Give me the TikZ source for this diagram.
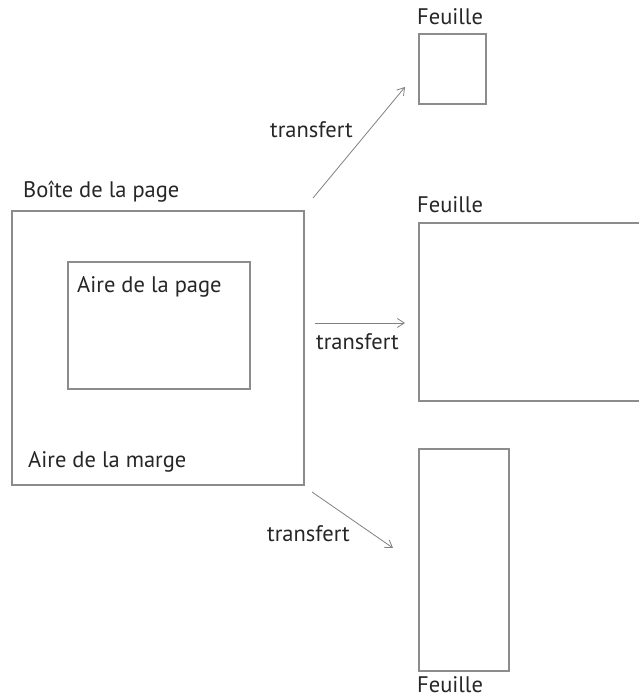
\documentclass[tikz,border=0pt]{standalone}
\usepackage{fontspec}
\setmainfont{PT Sans}
\usepackage{tikz}
\usetikzlibrary{arrows.meta}

\tikzset{
  cadre/.style={draw=black!45,line width=1.1pt,inner sep=0pt},
  etiq/.style={inner sep=0pt,anchor=base west,text=black!85,font=\fontsize{22.5}{24}\selectfont},
  fleche/.style={draw=black!50,line width=0.8pt,-{Straight Barb[length=7pt,width=9pt]}}
}

\begin{document}
\begin{tikzpicture}[x=1pt,y=1pt]
\useasboundingbox (0,0) rectangle (639,699);
\clip (0,0) rectangle (639,699);

% la page et sa marge
\node[cadre,minimum width=292pt,minimum height=274pt] (boite) at (158,351) {};
\node[cadre,minimum width=182pt,minimum height=127pt] (aire) at (159,373.5) {};
\node[etiq] (lboite) at (23,501) {Boîte de la page};
\node[etiq] (laire) at (77,406) {Aire de la page};
\node[etiq] (lmarge) at (28,231) {Aire de la marge};

% les feuilles
\node[cadre,minimum width=67pt,minimum height=70pt] (f1) at (452.5,630) {};
\node[cadre,minimum width=231pt,minimum height=178pt] (f2) at (534.5,387) {};
\node[cadre,minimum width=90pt,minimum height=222pt] (f3) at (464,139) {};
\node[etiq] (lf1) at (417,674) {Feuille};
\node[etiq] (lf2) at (417,486) {Feuille};
\node[etiq] (lf3) at (417,6) {Feuille};

% transferts
\coordinate (d1) at (313,501);
\coordinate (a1) at (405,612);
\coordinate (d2) at (315,376);
\coordinate (a2) at (405,376);
\coordinate (d3) at (312,207);
\coordinate (a3) at (393,151);
\draw[fleche] (d1) -- (a1);
\draw[fleche] (d2) -- (a2);
\draw[fleche] (d3) -- (a3);
\node[etiq] (lt1) at (270,561) {transfert};
\node[etiq] (lt2) at (316,349) {transfert};
\node[etiq] (lt3) at (267,157) {transfert};
\end{tikzpicture}
\end{document}
